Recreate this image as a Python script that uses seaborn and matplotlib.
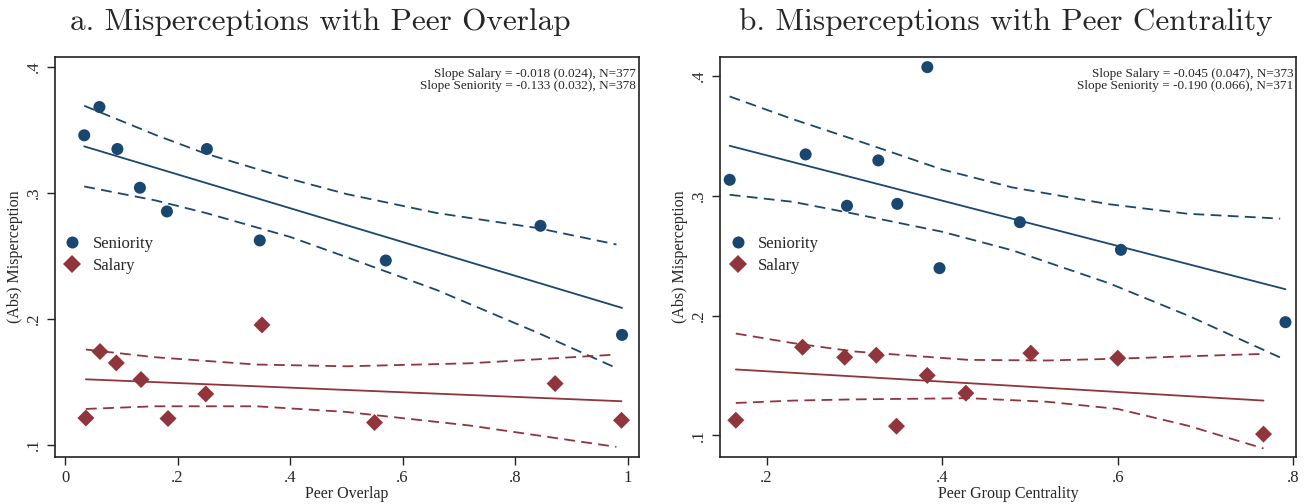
import numpy as np
import pandas as pd
import matplotlib
matplotlib.use("Agg")
import matplotlib.pyplot as plt
import seaborn as sns

# ---- Panel a: peer overlap (binned means) ----
overlap_sen_x = [0.034, 0.061, 0.093, 0.133, 0.181, 0.252, 0.346, 0.570, 0.845, 0.990]
overlap_sen_y = [0.3456, 0.368, 0.3347, 0.304, 0.2852, 0.3347, 0.2622, 0.2463, 0.2738, 0.1873]
overlap_sal_x = [0.037, 0.062, 0.091, 0.135, 0.183, 0.250, 0.350, 0.550, 0.871, 0.989]
overlap_sal_y = [0.1214, 0.1741, 0.1651, 0.1519, 0.1210, 0.1405, 0.1952, 0.1178, 0.1487, 0.1196]

# fitted lines and 95% bands
overlap_sen_fit_x = [0.034, 0.990]
overlap_sen_fit_y = [0.3368, 0.2087]
overlap_sen_ci_x = [0.034, 0.16, 0.25, 0.40, 0.50, 0.66, 0.84, 0.98]
overlap_sen_ci_hi = [0.369, 0.346, 0.331, 0.311, 0.299, 0.284, 0.272, 0.259]
overlap_sen_ci_lo = [0.305, 0.294, 0.284, 0.265, 0.249, 0.223, 0.189, 0.161]

overlap_sal_fit_x = [0.037, 0.989]
overlap_sal_fit_y = [0.1521, 0.1347]
overlap_sal_ci_x = [0.037, 0.16, 0.34, 0.50, 0.72, 0.98]
overlap_sal_ci_hi = [0.1757, 0.1696, 0.1638, 0.1624, 0.1648, 0.1717]
overlap_sal_ci_lo = [0.1286, 0.1307, 0.1307, 0.1262, 0.1154, 0.0985]

# ---- Panel b: peer group centrality ----
central_sen_x = [0.158, 0.2445, 0.2916, 0.3273, 0.3489, 0.3831, 0.397, 0.4885, 0.6036, 0.791]
central_sen_y = [0.3134, 0.3346, 0.2917, 0.3296, 0.2933, 0.4075, 0.2396, 0.278, 0.2549, 0.1945]
central_sal_x = [0.165, 0.241, 0.289, 0.325, 0.348, 0.383, 0.427, 0.501, 0.600, 0.766]
central_sal_y = [0.1126, 0.1736, 0.1652, 0.1669, 0.1076, 0.150, 0.1352, 0.1686, 0.1644, 0.101]

central_sen_fit_x = [0.158, 0.791]
central_sen_fit_y = [0.3418, 0.222]
central_sen_ci_x = [0.158, 0.23, 0.30, 0.40, 0.48, 0.59, 0.68, 0.785]
central_sen_ci_hi = [0.383, 0.364, 0.347, 0.322, 0.307, 0.293, 0.285, 0.281]
central_sen_ci_lo = [0.3009, 0.295, 0.285, 0.270, 0.2545, 0.227, 0.200, 0.165]

central_sal_fit_x = [0.165, 0.766]
central_sal_fit_y = [0.155, 0.129]
central_sal_ci_x = [0.165, 0.23, 0.30, 0.43, 0.52, 0.60, 0.68, 0.766]
central_sal_ci_hi = [0.185, 0.177, 0.170, 0.163, 0.1625, 0.164, 0.166, 0.168]
central_sal_ci_lo = [0.127, 0.129, 0.130, 0.131, 0.128, 0.122, 0.108, 0.089]

slopes_a = ["Slope Salary = -0.018 (0.024), N=377", "Slope Seniority = -0.133 (0.032), N=378"]
slopes_b = ["Slope Salary = -0.045 (0.047), N=373", "Slope Seniority = -0.190 (0.066), N=371"]

BLUE = "#1a476f"
RED = "#90353b"

sns.set_theme(style="white")
plt.rcParams['font.family'] = ['Liberation Serif', 'DejaVu Serif']
plt.rcParams['axes.unicode_minus'] = False


def fmt(v):
    s = "%g" % round(v, 1)
    return s[1:] if s.startswith("0.") else s


def panel(ax, sen_x, sen_y, sal_x, sal_y, sen_fit, sal_fit, sen_ci, sal_ci, notes):
    pts = pd.concat([
        pd.DataFrame({"x": sen_x, "y": sen_y, "group": "Seniority"}),
        pd.DataFrame({"x": sal_x, "y": sal_y, "group": "Salary"}),
    ])
    sns.scatterplot(data=pts, x="x", y="y", hue="group", style="group",
                    palette={"Seniority": BLUE, "Salary": RED},
                    markers={"Seniority": "o", "Salary": "D"},
                    s=75, linewidth=0, ax=ax, zorder=3)

    # fitted line (solid) and confidence band (dashed)
    for fit, ci, c in [(sen_fit, sen_ci, BLUE), (sal_fit, sal_ci, RED)]:
        sns.lineplot(x=fit[0], y=fit[1], color=c, lw=1.3, ax=ax, sort=False,
                     estimator=None)
        for yy in ci[1:]:
            sns.lineplot(x=ci[0], y=yy, color=c, lw=1.3, ax=ax, sort=False,
                         estimator=None, dashes=False, linestyle=(0, (6, 3.5)))

    handles, labels = ax.get_legend_handles_labels()
    ax.legend(handles[:2], labels[:2], loc="center left", bbox_to_anchor=(-0.01, 0.505),
              frameon=False, fontsize=12, handletextpad=0.2, labelspacing=0.35,
              borderaxespad=0, markerscale=1.0)

    ax.text(0.995, 0.972, "\n".join(notes), transform=ax.transAxes, ha="right",
            va="top", fontsize=9.5, linespacing=0.95)

    for sp in ax.spines.values():
        sp.set_color("#222222")
        sp.set_linewidth(1.2)
    ax.tick_params(axis="both", which="major", direction="out", length=6, width=1,
                   color="#222222", labelsize=12, left=True, bottom=True)
    ax.set_yticks([0.1, 0.2, 0.3, 0.4])
    ax.set_yticklabels([fmt(v) for v in [0.1, 0.2, 0.3, 0.4]], rotation=90, va="center")
    ax.set_ylabel("(Abs) Misperception", fontsize=11.5, labelpad=2)


fig = plt.figure(figsize=(13.12, 5.04), dpi=100)
ax1 = fig.add_axes([0.0419, 0.0933, 0.4451, 0.7937])
ax2 = fig.add_axes([0.5488, 0.0933, 0.4390, 0.7937])

panel(ax1, overlap_sen_x, overlap_sen_y, overlap_sal_x, overlap_sal_y,
      (overlap_sen_fit_x, overlap_sen_fit_y), (overlap_sal_fit_x, overlap_sal_fit_y),
      (overlap_sen_ci_x, overlap_sen_ci_hi, overlap_sen_ci_lo),
      (overlap_sal_ci_x, overlap_sal_ci_hi, overlap_sal_ci_lo), slopes_a)
ax1.set_xlim(-0.018, 1.02)
ax1.set_ylim(0.0905, 0.4077)
ax1.set_xticks([0, 0.2, 0.4, 0.6, 0.8, 1.0])
ax1.set_xticklabels([fmt(v) for v in [0, 0.2, 0.4, 0.6, 0.8, 1.0]])
ax1.set_xlabel("Peer Overlap", fontsize=11.5, labelpad=0)

panel(ax2, central_sen_x, central_sen_y, central_sal_x, central_sal_y,
      (central_sen_fit_x, central_sen_fit_y), (central_sal_fit_x, central_sal_fit_y),
      (central_sen_ci_x, central_sen_ci_hi, central_sen_ci_lo),
      (central_sal_ci_x, central_sal_ci_hi, central_sal_ci_lo), slopes_b)
ax2.set_xlim(0.147, 0.803)
ax2.set_ylim(0.0819, 0.416)
ax2.set_xticks([0.2, 0.4, 0.6, 0.8])
ax2.set_xticklabels([fmt(v) for v in [0.2, 0.4, 0.6, 0.8]])
ax2.set_xlabel("Peer Group Centrality", fontsize=11.5, labelpad=0)

fig.text(320 / 1312, 1 - 22 / 504, "a. Misperceptions with Peer Overlap",
         ha="center", va="center", fontsize=22.5, family="cmr10")
fig.text(1006 / 1312, 1 - 22 / 504, "b. Misperceptions with Peer Centrality",
         ha="center", va="center", fontsize=22.5, family="cmr10")

fig.savefig("out.png", dpi=100, facecolor="white")
